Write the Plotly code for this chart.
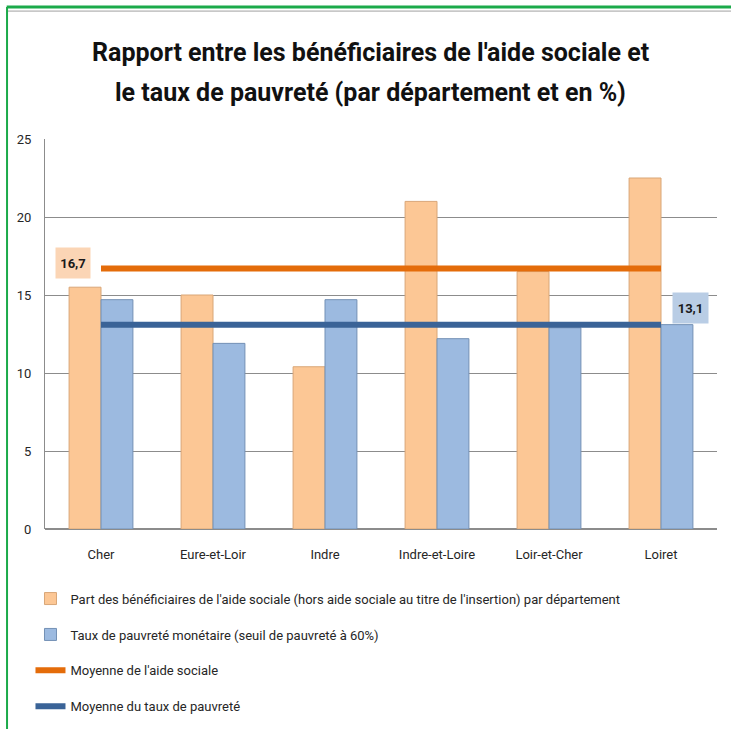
import plotly.graph_objects as go

categories = ["Cher", "Eure-et-Loir", "Indre", "Indre-et-Loire", "Loir-et-Cher", "Loiret"]
aide_sociale = [15.5, 15.0, 10.4, 21.0, 16.5, 22.5]
taux_pauvrete = [14.7, 11.9, 14.7, 12.2, 12.9, 13.1]
moyenne_aide = 16.7
moyenne_pauvrete = 13.1
y_ticks = [0, 5, 10, 15, 20, 25]

names = [
    "Part des bénéficiaires de l'aide sociale (hors aide sociale au titre de l'insertion) par département",
    "Taux de pauvreté monétaire (seuil de pauvreté à 60%)",
    "Moyenne de l'aide sociale",
    "Moyenne du taux de pauvreté",
]
title_lines = [
    "Rapport entre les bénéficiaires de l'aide sociale et",
    "le taux de pauvreté (par département et en %)",
]

FONT = "Liberation Sans Narrow, Arial Narrow, Roboto, Liberation Sans, sans-serif"

fig = go.Figure()
fig.add_trace(go.Bar(
    x=categories, y=aide_sociale, name=names[0], legendgroup="a",
    marker=dict(color="#FCC795", line=dict(color="#D9A677", width=1)),
))
fig.add_trace(go.Bar(
    x=categories, y=taux_pauvrete, name=names[1], legendgroup="b",
    marker=dict(color="#9CBAE0", line=dict(color="#7390B5", width=1)),
))
fig.add_trace(go.Scatter(
    x=categories, y=[moyenne_aide] * len(categories), name=names[2], legendgroup="c",
    mode="lines", line=dict(color="#E46C0A", width=6),
))
fig.add_trace(go.Scatter(
    x=categories, y=[moyenne_pauvrete] * len(categories), name=names[3], legendgroup="d",
    mode="lines", line=dict(color="#3A6397", width=6),
))

fig.add_annotation(
    x=categories[0], y=moyenne_aide, xref="x", yref="y",
    text="<b>" + f"{moyenne_aide:.1f}".replace(".", ",") + "</b>",
    showarrow=False, xshift=-28, yshift=5,
    bgcolor="#FBD5B5", width=26, height=22, borderpad=4,
    font=dict(family=FONT, size=13, color="#1a1a1a"),
)
fig.add_annotation(
    x=categories[-1], y=moyenne_pauvrete, xref="x", yref="y",
    text="<b>" + f"{moyenne_pauvrete:.1f}".replace(".", ",") + "</b>",
    showarrow=False, xshift=29, yshift=17,
    bgcolor="#B9CDE5", width=27, height=22, borderpad=4,
    font=dict(family=FONT, size=13, color="#1a1a1a"),
)

# title (two centred lines)
for txt, yy in zip(title_lines, [1.223, 1.118]):
    fig.add_annotation(
        x=0.485, y=yy, xref="paper", yref="paper", xanchor="center", yanchor="middle",
        text="<b>" + txt + "</b>", showarrow=False,
        font=dict(family=FONT, size=25, color="#111111"),
    )

# sheet frame (green selection border and cell line)
fig.add_shape(type="line", xref="paper", yref="paper", x0=-0.057, x1=1.03, y0=1.328, y1=1.328,
              line=dict(color="#A0A0A0", width=1))
fig.add_shape(type="line", xref="paper", yref="paper", x0=-0.057, x1=1.03, y0=1.3385, y1=1.3385,
              line=dict(color="#1BAA4A", width=3))
fig.add_shape(type="line", xref="paper", yref="paper", x0=-0.0565, x1=-0.0565, y0=1.3385, y1=-0.6,
              line=dict(color="#1BAA4A", width=2))

fig.update_layout(
    width=731, height=729,
    margin=dict(l=45, r=14, t=139, b=200, autoexpand=False),
    paper_bgcolor="white", plot_bgcolor="white",
    barmode="group", bargap=0.43, bargroupgap=0,
    font=dict(family=FONT, size=13, color="#262626"),
    xaxis=dict(showgrid=False, showline=False, ticks="", ticklabelstandoff=16,
               tickfont=dict(size=13, color="#262626")),
    yaxis=dict(range=[0, 25], tickvals=y_ticks, showgrid=True, gridcolor="#8C8C8C", gridwidth=1,
               showline=True, linecolor="#8C8C8C", linewidth=1, zeroline=True, zerolinecolor="#8C8C8C",
               ticks="", ticklabelstandoff=10, tickfont=dict(size=13, color="#262626")),
    showlegend=True,
    legend=dict(x=-0.0216, xref="paper", xanchor="left",
                y=-0.14, yref="paper", yanchor="top",
                orientation="v", traceorder="grouped", tracegroupgap=16,
                font=dict(family=FONT, size=13, color="#262626"), itemwidth=30,
                bgcolor="rgba(0,0,0,0)"),
)

fig.write_html("out.html", config={"displayModeBar": False},
               post_script="document.body.style.margin='0';")
